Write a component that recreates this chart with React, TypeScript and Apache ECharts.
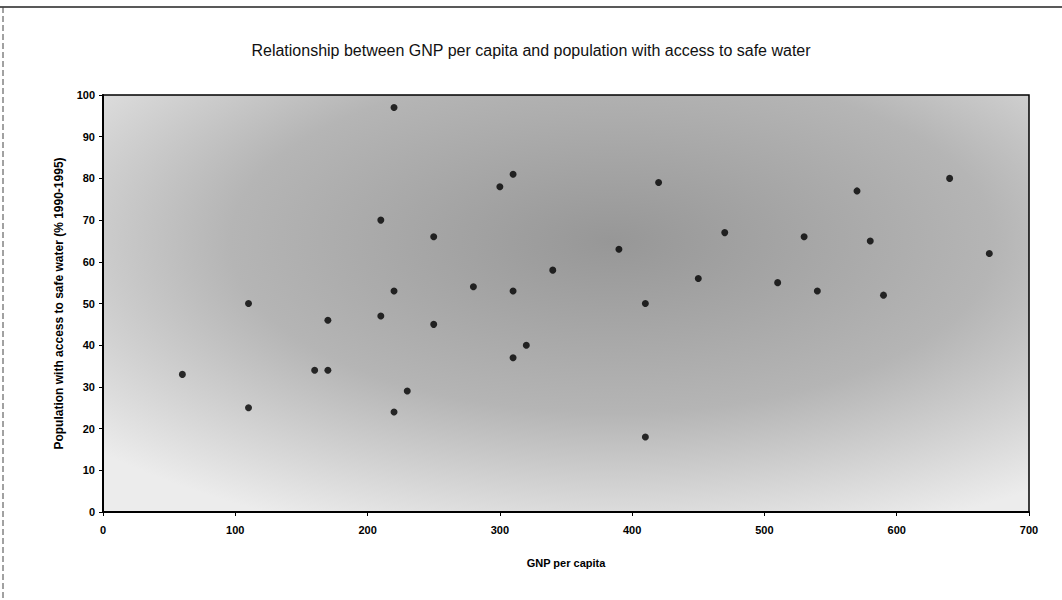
import React, { useEffect, useRef } from "react";
import * as echarts from "echarts";

const gnpPerCapita = [60, 110, 110, 160, 170, 170, 210, 210, 220, 220, 220, 230, 250, 250, 280, 300, 310, 310, 310, 320, 340, 390, 410, 410, 420, 450, 470, 510, 530, 540, 570, 580, 590, 640, 670];
const safeWater = [33, 50, 25, 34, 34, 46, 70, 47, 97, 53, 24, 29, 66, 45, 54, 78, 81, 53, 37, 40, 58, 63, 50, 18, 79, 56, 67, 55, 66, 53, 77, 65, 52, 80, 62];

const titleText = "Relationship between GNP per capita and population with access to safe water";
const xName = "GNP per capita";
const yName = "Population with access to safe water (% 1990-1995)";

export default function App() {
  const ref = useRef<HTMLDivElement>(null);
  useEffect(() => {
    if (!ref.current) return;
    const chart = echarts.init(ref.current, undefined, { renderer: "svg" });
    const points = gnpPerCapita.map((g, i) => [g, safeWater[i]]);
    chart.setOption({
      animation: false,
      backgroundColor: "#ffffff",
      title: {
        text: titleText,
        left: "center",
        top: 37,
        textStyle: { fontFamily: "Liberation Sans", fontSize: 16, fontWeight: "normal", color: "#111" },
      },
      graphic: [
        { type: "line", shape: { x1: 0, y1: 7, x2: 1062, y2: 7 }, style: { stroke: "#222", lineWidth: 1.5 } },
        { type: "line", shape: { x1: 3, y1: 7, x2: 3, y2: 600 }, style: { stroke: "#444", lineWidth: 1, lineDash: [6, 3] } },
      ],
      grid: {
        left: 103,
        top: 95,
        right: 33,
        bottom: 88,
        show: true,
        borderColor: "#000",
        borderWidth: 1.5,
        backgroundColor: {
          type: "radial",
          x: 0.55,
          y: 0.35,
          r: 0.75,
          colorStops: [
            { offset: 0, color: "#979797" },
            { offset: 0.55, color: "#b5b5b5" },
            { offset: 1, color: "#ececec" },
          ],
        },
      },
      xAxis: {
        type: "value",
        min: 0,
        max: 700,
        interval: 100,
        name: xName,
        nameLocation: "middle",
        nameGap: 45,
        nameTextStyle: { fontFamily: "Liberation Sans", fontSize: 11, fontWeight: "bold", color: "#000" },
        axisLine: { show: true, lineStyle: { color: "#000", width: 2 } },
        axisTick: { show: true, length: 4, lineStyle: { color: "#000" } },
        axisLabel: { fontFamily: "Liberation Sans", fontSize: 11, fontWeight: "bold", color: "#000", margin: 12 },
        splitLine: { show: false },
      },
      yAxis: {
        type: "value",
        min: 0,
        max: 100,
        interval: 10,
        name: yName,
        nameLocation: "middle",
        nameGap: 38,
        nameTextStyle: { fontFamily: "Liberation Sans", fontSize: 12, fontWeight: "bold", color: "#000" },
        axisLine: { show: true, lineStyle: { color: "#000", width: 2 } },
        axisTick: { show: true, length: 4, lineStyle: { color: "#000" } },
        axisLabel: { fontFamily: "Liberation Sans", fontSize: 11, fontWeight: "bold", color: "#000", margin: 8 },
        splitLine: { show: false },
      },
      series: [
        {
          type: "scatter",
          data: points,
          symbol: "circle",
          symbolSize: 7,
          itemStyle: { color: "#000" },
        },
      ],
    });
    return () => chart.dispose();
  }, []);
  return <div ref={ref} style={{ width: 1062, height: 600, position: "absolute", left: 0, top: 0 }} />;
}
